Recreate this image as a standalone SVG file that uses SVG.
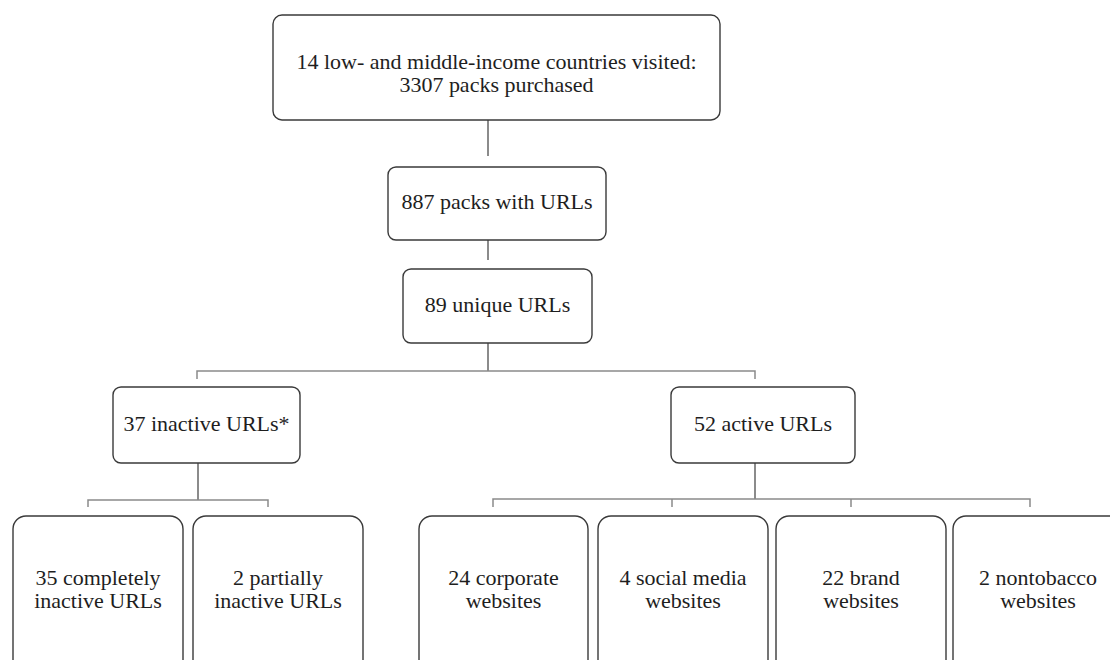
<svg xmlns="http://www.w3.org/2000/svg" width="1110" height="660" viewBox="0 0 1110 660">
<style>
.box{fill:#ffffff;stroke:#3a3a3a;stroke-width:1.4}
.t{font-family:"Liberation Serif","Times New Roman",serif;font-size:20px;fill:#1e1e1e;text-anchor:middle}
.c{fill:none;stroke:#8a8a8a;stroke-width:1.5}
.cv{fill:none;stroke:#5a5a5a;stroke-width:1.4}
</style>
<rect width="1110" height="660" fill="#ffffff"/>
<g id="connectors">
<line class="cv" x1="488" y1="120" x2="488" y2="156"/>
<line class="cv" x1="488" y1="240" x2="488" y2="260"/>
<line class="cv" x1="488" y1="343" x2="488" y2="371"/>
<polyline class="c" points="197,379 197,371 755,371 755,379"/>
<line class="cv" x1="198" y1="463" x2="198" y2="500"/>
<polyline class="c" points="88,507 88,500 268,500 268,507"/>
<line class="cv" x1="755" y1="463" x2="755" y2="499"/>
<polyline class="c" points="493,507 493,499 1030,499 1030,507"/>
<line class="c" x1="672" y1="499" x2="672" y2="507"/>
<line class="c" x1="851" y1="499" x2="851" y2="507"/>
</g>
<g id="n-countries">
<rect class="box" x="273" y="15" width="447" height="105" rx="9"/>
<text class="t" transform="translate(496.5,69) scale(1.1,1)">14 low- and middle-income countries visited:</text>
<text class="t" transform="translate(496.5,92) scale(1.1,1)">3307 packs purchased</text>
</g>
<g id="n-packs">
<rect class="box" x="388" y="167" width="218" height="73" rx="8"/>
<text class="t" transform="translate(497,209) scale(1.1,1)">887 packs with URLs</text>
</g>
<g id="n-unique">
<rect class="box" x="403" y="269" width="189" height="74" rx="8"/>
<text class="t" transform="translate(497.5,312) scale(1.1,1)">89 unique URLs</text>
</g>
<g id="n-inactive">
<rect class="box" x="113" y="387" width="187" height="76" rx="8"/>
<text class="t" transform="translate(206.5,431) scale(1.1,1)">37 inactive URLs*</text>
</g>
<g id="n-active">
<rect class="box" x="671" y="387" width="184" height="76" rx="8"/>
<text class="t" transform="translate(763,431) scale(1.1,1)">52 active URLs</text>
</g>
<g id="n-completely">
<rect class="box" x="13" y="516" width="170" height="170" rx="13"/>
<text class="t" transform="translate(98,585) scale(1.1,1)">35 completely</text>
<text class="t" transform="translate(98,608) scale(1.1,1)">inactive URLs</text>
</g>
<g id="n-partially">
<rect class="box" x="193" y="516" width="170" height="170" rx="13"/>
<text class="t" transform="translate(278,585) scale(1.1,1)">2 partially</text>
<text class="t" transform="translate(278,608) scale(1.1,1)">inactive URLs</text>
</g>
<g id="n-corporate">
<rect class="box" x="419" y="516" width="169" height="170" rx="13"/>
<text class="t" transform="translate(503.5,585) scale(1.1,1)">24 corporate</text>
<text class="t" transform="translate(503.5,608) scale(1.1,1)">websites</text>
</g>
<g id="n-social">
<rect class="box" x="598" y="516" width="170" height="170" rx="13"/>
<text class="t" transform="translate(683,585) scale(1.1,1)">4 social media</text>
<text class="t" transform="translate(683,608) scale(1.1,1)">websites</text>
</g>
<g id="n-brand">
<rect class="box" x="776" y="516" width="170" height="170" rx="13"/>
<text class="t" transform="translate(861,585) scale(1.1,1)">22 brand</text>
<text class="t" transform="translate(861,608) scale(1.1,1)">websites</text>
</g>
<g id="n-nontobacco">
<rect class="box" x="953" y="516" width="170" height="170" rx="13"/>
<text class="t" transform="translate(1038,585) scale(1.1,1)">2 nontobacco</text>
<text class="t" transform="translate(1038,608) scale(1.1,1)">websites</text>
</g>
</svg>
